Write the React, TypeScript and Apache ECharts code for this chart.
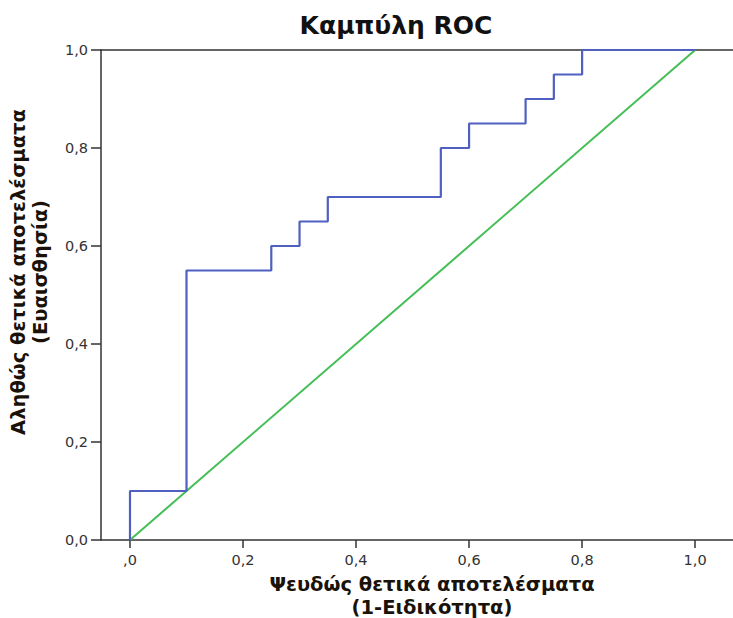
import React, { useEffect, useRef } from "react";
import * as echarts from "echarts";

const rocFpr = [0, 0, 0.1, 0.1, 0.25, 0.25, 0.3, 0.3, 0.35, 0.35, 0.55, 0.55, 0.6, 0.6, 0.7, 0.7, 0.75, 0.75, 0.8, 0.8, 1.0];
const rocTpr = [0, 0.1, 0.1, 0.55, 0.55, 0.6, 0.6, 0.65, 0.65, 0.7, 0.7, 0.8, 0.8, 0.85, 0.85, 0.9, 0.9, 0.95, 0.95, 1.0, 1.0];
const refFpr = [0, 1];
const refTpr = [0, 1];
const tickValues = [0, 0.2, 0.4, 0.6, 0.8, 1.0];
const xTickLabels = [",0", "0,2", "0,4", "0,6", "0,8", "1,0"];
const yTickLabels = ["0,0", "0,2", "0,4", "0,6", "0,8", "1,0"];
const titleText = "Καμπύλη ROC";
const xName = ["Ψευδώς θετικά αποτελέσματα", "(1-Ειδικότητα)"];
const yName = ["Αληθώς θετικά αποτελέσματα", "(Ευαισθησία)"];

export default function App() {
  const ref = useRef<HTMLDivElement>(null);
  useEffect(() => {
    if (!ref.current) return;
    const chart = echarts.init(ref.current, null, { renderer: "svg" });
    const fmtX = (v: number) => {
      const i = tickValues.findIndex((t) => Math.abs(t - v) < 1e-6);
      return i >= 0 ? xTickLabels[i] : "";
    };
    const fmtY = (v: number) => {
      const i = tickValues.findIndex((t) => Math.abs(t - v) < 1e-6);
      return i >= 0 ? yTickLabels[i] : "";
    };
    const axisFont = {
      fontFamily: "DejaVu Sans, Verdana, sans-serif",
      fontSize: 14.5,
      color: "#333",
    };
    chart.setOption({
      animation: false,
      backgroundColor: "#ffffff",
      title: {
        text: titleText,
        left: 391,
        top: 8,
        textAlign: "center",
        textStyle: {
          fontFamily: "DejaVu Sans, Verdana, sans-serif",
          fontSize: 25,
          fontWeight: "bold",
          color: "#111",
        },
      },
      grid: { left: 101, right: 0, top: 50, bottom: 78 },
      xAxis: [
        {
          type: "value",
          min: -0.0513,
          max: 1.067,
          splitLine: { show: false },
          axisLine: { show: true, onZero: false, lineStyle: { color: "#333", width: 1.5 } },
          axisTick: { show: true, customValues: tickValues, length: 8, lineStyle: { color: "#333", width: 1.5 } },
          axisLabel: { show: true, customValues: tickValues, formatter: fmtX, margin: 12, ...axisFont },
        },
        {
          type: "value",
          position: "top",
          min: -0.0513,
          max: 1.067,
          splitLine: { show: false },
          axisLine: { show: true, onZero: false, lineStyle: { color: "#333", width: 1.5 } },
          axisTick: { show: false },
          axisLabel: { show: false },
        },
      ],
      yAxis: {
        type: "value",
        min: 0,
        max: 1,
        interval: 0.2,
        splitLine: { show: false },
        axisLine: { show: true, onZero: false, lineStyle: { color: "#333", width: 1.5 } },
        axisTick: { show: true, length: 10, lineStyle: { color: "#333", width: 1.5 } },
        axisLabel: { formatter: fmtY, margin: 13, ...axisFont },
      },
      series: [
        {
          type: "line",
          data: rocFpr.map((x, i) => [x, rocTpr[i]]),
          symbol: "none",
          lineStyle: { color: "#4f60c0", width: 2.2 },
          z: 3,
        },
        {
          type: "line",
          data: refFpr.map((x, i) => [x, refTpr[i]]),
          symbol: "none",
          lineStyle: { color: "#43be55", width: 2 },
          z: 2,
        },
      ],
      graphic: [
        {
          type: "text",
          x: 432,
          y: 596,
          style: {
            text: xName.join("\n"),
            fontFamily: "DejaVu Sans, Verdana, sans-serif",
            fontSize: 19.5,
            fontWeight: "bold",
            fill: "#1a1208",
            align: "center",
            verticalAlign: "middle",
            lineHeight: 23,
          },
        },
        {
          type: "text",
          x: 29,
          y: 272,
          rotation: Math.PI / 2,
          style: {
            text: yName.join("\n"),
            fontFamily: "DejaVu Sans, Verdana, sans-serif",
            fontSize: 19.5,
            fontWeight: "bold",
            fill: "#1a1208",
            align: "center",
            verticalAlign: "middle",
            lineHeight: 22,
          },
        },
      ],
    });
    return () => chart.dispose();
  }, []);
  return <div ref={ref} style={{ width: 733, height: 618, position: "absolute", left: 0, top: 0 }} />;
}
